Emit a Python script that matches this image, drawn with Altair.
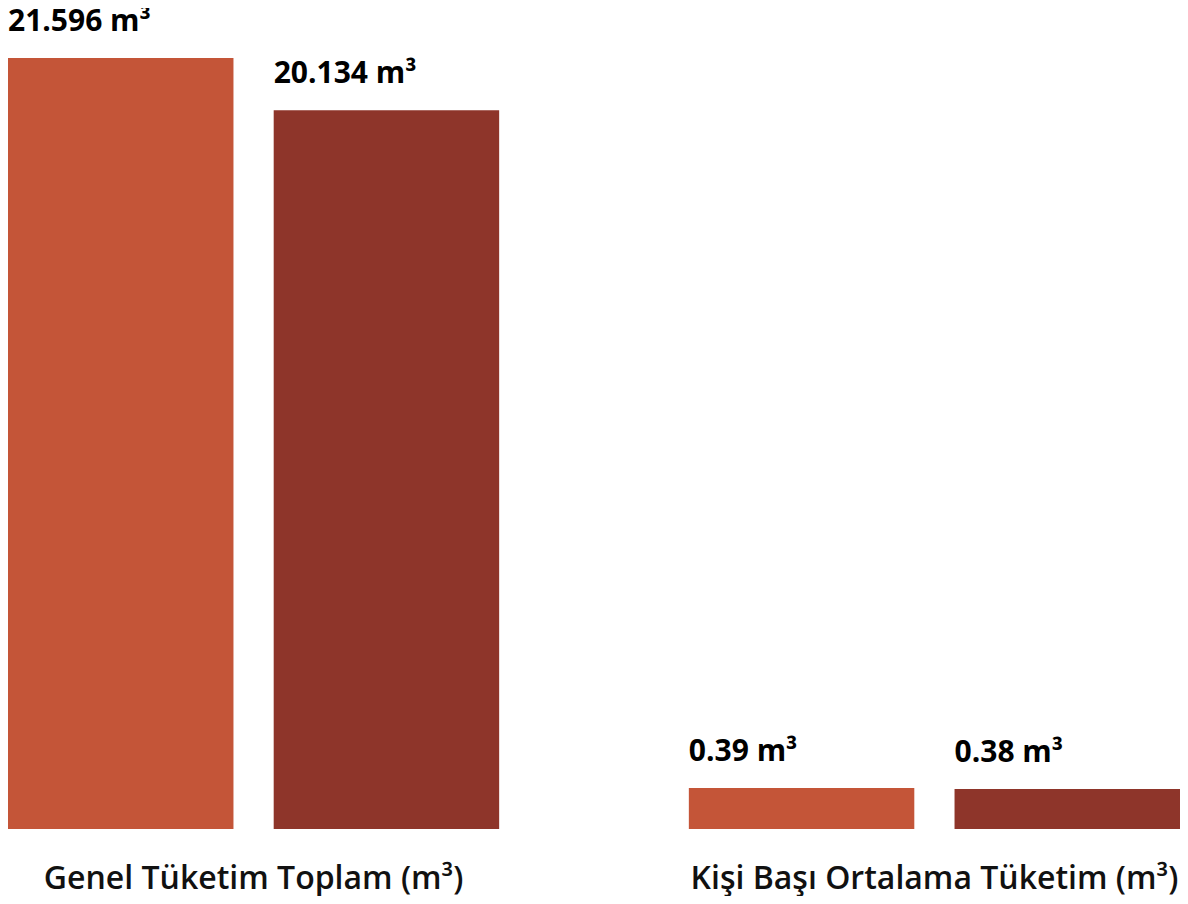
import altair as alt
import pandas as pd

groups = ["Genel Tüketim Toplam (m³)", "Kişi Başı Ortalama Tüketim (m³)"]
series = ["Dönem 1", "Dönem 2"]
total_values = [21.596, 20.134]
total_labels = ["21.596 m³", "20.134 m³"]
per_capita_values = [0.39, 0.38]
per_capita_labels = ["0.39 m³", "0.38 m³"]
colors = ["#C45538", "#8E352A"]

FONT = "Open Sans"
W = 1172

xscale = alt.Scale(domain=groups, paddingInner=0.2786, paddingOuter=0)
xaxis = alt.Axis(title=None, ticks=False, domain=False, grid=False, labelAngle=0,
                 labelFont=FONT, labelFontSize=32, labelFontWeight=600, labelColor="#111111",
                 labelBaseline="alphabetic", labelPadding=59, labelLimit=0)
offscale = alt.Scale(domain=series, paddingInner=0.1514, paddingOuter=0)
cscale = alt.Scale(domain=series, range=colors)
half_bar = W / (2 - 0.2786) * (1 - 0.2786) / (2 - 0.1514) * (1 - 0.1514) / 2


def group_layer(group, values, labels, domain_max):
    df = pd.DataFrame({"group": [group] * len(series), "series": series,
                       "value": values, "label": labels})
    yscale = alt.Scale(domain=[0, domain_max], nice=False, zero=True)
    base = alt.Chart(df)
    bars = base.mark_bar().encode(
        x=alt.X("group:N", scale=xscale, axis=xaxis),
        xOffset=alt.XOffset("series:N", scale=offscale),
        y=alt.Y("value:Q", scale=yscale, axis=None),
        color=alt.Color("series:N", scale=cscale, legend=None),
    )
    text = base.mark_text(align="left", baseline="alphabetic", dy=-27, dx=-half_bar,
                          font=FONT, fontSize=30, fontWeight=700, color="#000000").encode(
        x=alt.X("group:N", scale=xscale, axis=xaxis, bandPosition=0),
        xOffset=alt.XOffset("series:N", scale=offscale),
        y=alt.Y("value:Q", scale=yscale, axis=None),
        text="label:N",
    )
    return alt.layer(bars, text)


l1 = group_layer(groups[0], total_values, total_labels, 21.596)
l2 = group_layer(groups[1], per_capita_values, per_capita_labels, 7.33)

chart = alt.layer(l1, l2).resolve_scale(y="independent").properties(
    width=W, height=771,
    padding={"top": 50, "left": 0, "right": 0, "bottom": 67},
    autosize=alt.AutoSizeParams(type="none"),
).configure_view(stroke=None)

chart.save("out.html", embed_options={"renderer": "svg", "actions": False})
